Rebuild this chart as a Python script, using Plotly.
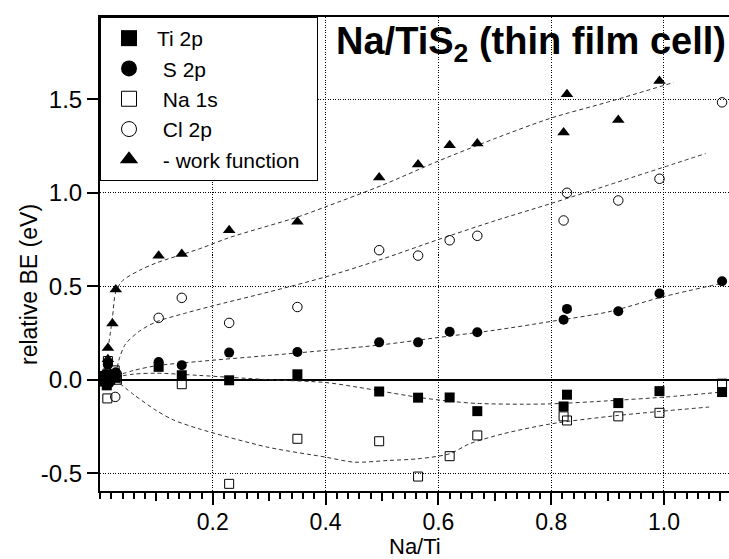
import plotly.graph_objects as go

# ---------------- data ----------------
ti_x = [0.004, 0.008, 0.012, 0.018, 0.024, 0.028, 0.104, 0.145, 0.229, 0.350, 0.495, 0.564, 0.620, 0.669, 0.822, 0.828, 0.919, 0.992, 1.103]
ti_y = [-0.01, 0.02, -0.03, 0.0, 0.03, 0.01, 0.069, 0.024, -0.003, 0.029, -0.063, -0.096, -0.095, -0.168, -0.143, -0.080, -0.125, -0.061, -0.066]

s_x = [0.005, 0.010, 0.014, 0.016, 0.022, 0.028, 0.104, 0.145, 0.229, 0.350, 0.495, 0.564, 0.620, 0.669, 0.822, 0.828, 0.919, 0.992, 1.103]
s_y = [0.0, 0.03, 0.08, -0.02, 0.02, 0.04, 0.095, 0.078, 0.145, 0.148, 0.200, 0.200, 0.257, 0.254, 0.321, 0.379, 0.366, 0.461, 0.527]

na_x = [0.013, 0.014, 0.026, 0.030, 0.145, 0.229, 0.350, 0.495, 0.564, 0.620, 0.669, 0.822, 0.828, 0.919, 0.992, 1.103]
na_y = [-0.10, 0.10, 0.05, 0.0, -0.024, -0.557, -0.316, -0.329, -0.518, -0.409, -0.298, -0.196, -0.218, -0.196, -0.177, -0.021]

cl_x = [0.012, 0.027, 0.030, 0.104, 0.145, 0.229, 0.350, 0.495, 0.564, 0.620, 0.669, 0.822, 0.828, 0.919, 0.992, 1.103]
cl_y = [0.04, -0.092, 0.03, 0.331, 0.438, 0.304, 0.389, 0.693, 0.664, 0.746, 0.770, 0.852, 1.0, 0.959, 1.075, 1.484]

wf_x = [0.014, 0.014, 0.022, 0.028, 0.104, 0.145, 0.229, 0.350, 0.495, 0.564, 0.620, 0.669, 0.822, 0.828, 0.919, 0.992]
wf_y = [0.11, 0.170, 0.301, 0.483, 0.663, 0.672, 0.800, 0.845, 1.082, 1.152, 1.255, 1.264, 1.323, 1.527, 1.389, 1.598]

# fitted guide curves (nodes)
wf_fit_x = [0.014, 0.022, 0.028, 0.040, 0.070, 0.100, 0.176, 0.229, 0.350, 0.400, 0.500, 0.600, 0.700, 0.800, 0.900, 1.017]
wf_fit_y = [0.16, 0.33, 0.47, 0.53, 0.585, 0.625, 0.70, 0.76, 0.87, 0.925, 1.04, 1.17, 1.29, 1.40, 1.485, 1.59]

cl_fit_x = [0.028, 0.035, 0.045, 0.070, 0.100, 0.150, 0.200, 0.300, 0.400, 0.500, 0.600, 0.700, 0.800, 0.900, 1.074]
cl_fit_y = [0.03, 0.12, 0.19, 0.26, 0.31, 0.355, 0.395, 0.47, 0.55, 0.645, 0.75, 0.85, 0.943, 1.04, 1.21]

s_fit_x = [0.028, 0.060, 0.100, 0.176, 0.300, 0.400, 0.500, 0.600, 0.700, 0.800, 0.900, 1.000, 1.100]
s_fit_y = [0.02, 0.05, 0.075, 0.098, 0.13, 0.157, 0.187, 0.226, 0.265, 0.312, 0.362, 0.445, 0.514]

ti_fit_x = [0.028, 0.060, 0.100, 0.176, 0.300, 0.400, 0.457, 0.500, 0.564, 0.620, 0.669, 0.750, 0.800, 0.900, 1.000, 1.103]
ti_fit_y = [0.015, 0.03, 0.035, 0.023, 0.0, -0.015, -0.04, -0.062, -0.094, -0.115, -0.127, -0.131, -0.129, -0.113, -0.093, -0.066]

na_fit_x = [0.035, 0.060, 0.100, 0.130, 0.176, 0.296, 0.400, 0.451, 0.511, 0.564, 0.620, 0.655, 0.715, 0.800, 0.919, 1.080]
na_fit_y = [-0.02, -0.08, -0.165, -0.215, -0.263, -0.36, -0.414, -0.441, -0.432, -0.423, -0.396, -0.343, -0.289, -0.236, -0.191, -0.146]

x_major = [0.2, 0.4, 0.6, 0.8, 1.0]
x_major_text = ["0.2", "0.4", "0.6", "0.8", "1.0"]
x_mid = [0.1, 0.3, 0.5, 0.7, 0.9, 1.1]
y_ticks = [-0.5, 0.0, 0.5, 1.0, 1.5]
y_tick_text = ["-0.5", "0.0", "0.5", "1.0", "1.5"]

FONT = "Liberation Sans, Arial, Helvetica, sans-serif"

fig = go.Figure()

fit_line = dict(color="#333333", width=1, dash="4px,3px", shape="spline", smoothing=0.8)
for fx, fy in [(wf_fit_x, wf_fit_y), (cl_fit_x, cl_fit_y), (s_fit_x, s_fit_y),
               (ti_fit_x, ti_fit_y), (na_fit_x, na_fit_y)]:
    fig.add_trace(go.Scatter(x=fx, y=fy, mode="lines", line=fit_line,
                             showlegend=False, hoverinfo="skip"))

series = [
    ("Ti 2p", ti_x, ti_y, "square", 10, 0),
    ("\u00a0S 2p", s_x, s_y, "circle", 10, 0),
    ("\u00a0Na 1s", na_x, na_y, "square-open", 9, 1),
    ("\u00a0Cl 2p", cl_x, cl_y, "circle-open", 9.5, 1),
    ("\u00a0- work function\u00a0\u00a0", wf_x, wf_y, "triangle-up", 11, 0),
]
for name, xs, ys, sym, size, lw in series:
    fig.add_trace(go.Scatter(x=xs, y=ys, mode="markers", name=name, showlegend=False,
                             marker=dict(symbol=sym, size=size, color="black",
                                         line=dict(color="black", width=lw))))
# legend entries (bigger symbols as in the reference)
for name, xs, ys, sym, size, lw in series:
    fig.add_trace(go.Scatter(x=[None], y=[None], mode="markers", name=name,
                             marker=dict(symbol=sym, size=16 if lw == 0 else 15, color="black",
                                         line=dict(color="black", width=lw))))

# overlay axis only for the mid-length ticks at odd tenths
fig.add_trace(go.Scatter(x=[None], y=[None], xaxis="x2", showlegend=False, hoverinfo="skip"))

grid_dash = "1px,1.5px"
fig.update_layout(
    width=729, height=559,
    margin=dict(l=100, r=0, t=17, b=68),
    paper_bgcolor="white", plot_bgcolor="white",
    font=dict(family=FONT, size=24, color="black"),
    xaxis=dict(range=[0, 1.1153], tickmode="array", tickvals=x_major, ticktext=x_major_text,
               ticks="outside", ticklen=12, tickwidth=2, tickcolor="black",
               ticklabelstandoff=-3,
               showline=True, linewidth=2, linecolor="black", mirror=True,
               showgrid=True, gridcolor="black", gridwidth=1, griddash=grid_dash,
               zeroline=False, tickfont=dict(size=23),
               minor=dict(dtick=0.02, tick0=0, ticks="outside", ticklen=6, tickwidth=2,
                          tickcolor="black", showgrid=False)),
    xaxis2=dict(overlaying="x", matches="x", anchor="y", side="bottom",
                tickmode="array", tickvals=x_mid, showticklabels=False,
                ticks="outside", ticklen=9, tickwidth=2, tickcolor="black",
                showline=False, showgrid=False, zeroline=False),
    yaxis=dict(range=[-0.5953, 1.9405], tickmode="array", tickvals=y_ticks, ticktext=y_tick_text,
               ticks="outside", ticklen=11, tickwidth=2, tickcolor="black",
               showline=True, linewidth=2, linecolor="black",
               showgrid=True, gridcolor="black", gridwidth=1, griddash=grid_dash,
               zeroline=True, zerolinecolor="black", zerolinewidth=2,
               tickfont=dict(size=24)),
    legend=dict(x=0, y=1, xanchor="left", yanchor="top", bgcolor="white",
                bordercolor="black", borderwidth=1, font=dict(size=21, family=FONT),
                itemwidth=46, tracegroupgap=0),
    annotations=[
        dict(text="<b>Na/TiS<sub>2</sub> (thin film cell)</b>", xref="paper", yref="paper",
             x=1, y=1 - (44 - 17) / 474, xanchor="right", yanchor="middle", xshift=-1,
             showarrow=False, font=dict(size=38, family=FONT)),
        dict(text="relative BE (eV)", xref="paper", yref="paper",
             x=(29 - 100) / 629, y=1 - (285 - 17) / 474, textangle=-90,
             xanchor="center", yanchor="middle", showarrow=False, font=dict(size=23, family=FONT)),
        dict(text="Na/Ti", xref="paper", yref="paper",
             x=0.5, y=-(546 - 491) / 474, xanchor="center", yanchor="middle",
             showarrow=False, font=dict(size=22, family=FONT), borderpad=0),
    ],
)

fig.write_html("out.html")
